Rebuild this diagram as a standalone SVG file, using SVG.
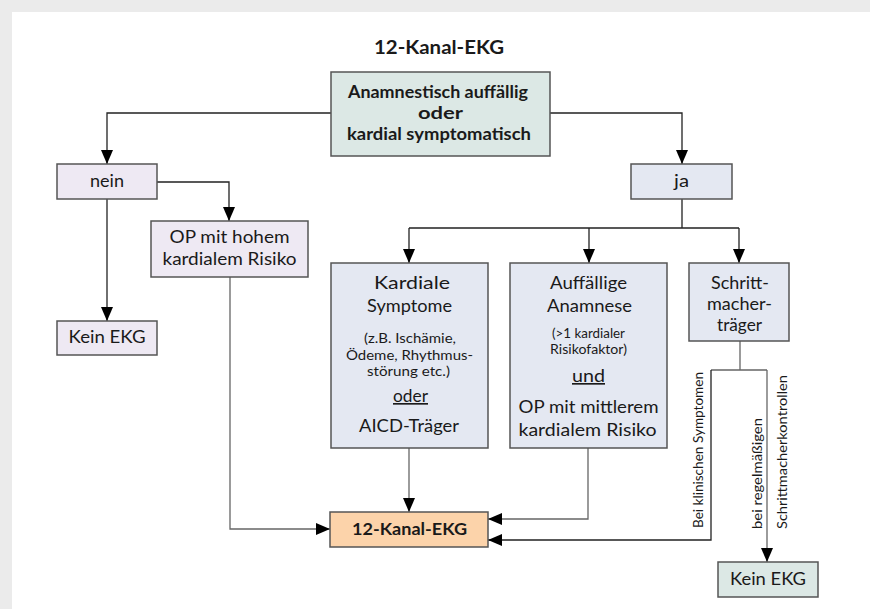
<svg xmlns="http://www.w3.org/2000/svg" width="870" height="609" viewBox="0 0 870 609">
<style>
  text { font-family: Lato, "Open Sans", "Liberation Sans", sans-serif; fill: #1a1a1a; text-anchor: middle; }
  .box { stroke: #555; stroke-width: 1.5; }
  .teal { fill: #dce8e5; }
  .lav { fill: #eee9f3; }
  .blue { fill: #e4e8f2; }
  .peach { fill: #fcd3aa; }
  .b { font-weight: bold; font-size: 16.5px; }
  .n { font-size: 16.5px; }
  .s { font-size: 13.5px; }
  .r { font-size: 13.5px; text-anchor: start; }
  .con { fill: none; stroke: #222; stroke-width: 1.3; }
  .g { stroke: #666; }
</style>
<defs>
  <marker id="ah" markerUnits="userSpaceOnUse" markerWidth="14" markerHeight="12" refX="14" refY="6" orient="auto">
    <path d="M0,0 L14,6 L0,12 z" fill="#000"/>
  </marker>
</defs>
<rect x="0" y="0" width="870" height="609" fill="#ebebeb"/>
<rect x="12" y="12" width="858" height="597" fill="#ffffff"/>
<text x="439" y="54" style="font-weight:bold;font-size:19px" textLength="130" lengthAdjust="spacingAndGlyphs">12-Kanal-EKG</text>

<g id="connectors">
  <path class="con" d="M331,113 H107 V164" marker-end="url(#ah)"/>
  <path class="con" d="M550,113 H682 V164" marker-end="url(#ah)"/>
  <path class="con" d="M157,182 H229 V221" marker-end="url(#ah)"/>
  <path class="con" d="M107,199 V321" marker-end="url(#ah)"/>
  <path class="con g" d="M230,277 V529 H330" marker-end="url(#ah)"/>
  <path class="con" d="M682,199 V228 M409,228 H739"/>
  <path class="con" d="M409,228 V263" marker-end="url(#ah)"/>
  <path class="con" d="M589,228 V263" marker-end="url(#ah)"/>
  <path class="con" d="M739,228 V263" marker-end="url(#ah)"/>
  <path class="con g" d="M409,448 V512" marker-end="url(#ah)"/>
  <path class="con g" d="M588,448 V519 H488" marker-end="url(#ah)"/>
  <path class="con g" d="M740,341 V370 M711,370 H767"/>
  <path class="con" d="M711,370 V540 H488" marker-end="url(#ah)"/>
  <path class="con g" d="M767,370 V562" marker-end="url(#ah)"/>
  <text class="r" transform="translate(703,528) rotate(-90)" textLength="156" lengthAdjust="spacingAndGlyphs">Bei klinischen Symptomen</text>
  <text class="r" transform="translate(762,529) rotate(-90)" textLength="111" lengthAdjust="spacingAndGlyphs">bei regelmäßigen</text>
  <text class="r" transform="translate(787,529) rotate(-90)" textLength="154" lengthAdjust="spacingAndGlyphs">Schrittmacherkontrollen</text>
</g>

<g id="top">
  <rect class="box teal" x="331" y="72" width="219" height="84"/>
  <text class="b" x="438" y="98" textLength="180" lengthAdjust="spacingAndGlyphs">Anamnestisch auffällig</text>
  <text class="b" x="440.5" y="119" textLength="45" lengthAdjust="spacingAndGlyphs">oder</text>
  <text class="b" x="439" y="140" textLength="184" lengthAdjust="spacingAndGlyphs">kardial symptomatisch</text>
</g>

<g id="nein">
  <rect class="box lav" x="57" y="164" width="100" height="35"/>
  <text class="n" x="107" y="187" textLength="34" lengthAdjust="spacingAndGlyphs">nein</text>
</g>

<g id="ja">
  <rect class="box blue" x="631" y="164" width="101" height="35"/>
  <text class="n" x="681.5" y="187" textLength="15" lengthAdjust="spacingAndGlyphs">ja</text>
</g>

<g id="op-hoch">
  <rect class="box lav" x="151" y="221" width="157" height="56"/>
  <text class="n" x="229.5" y="243" textLength="120" lengthAdjust="spacingAndGlyphs">OP mit hohem</text>
  <text class="n" x="229.5" y="265" textLength="134" lengthAdjust="spacingAndGlyphs">kardialem Risiko</text>
</g>

<g id="kein-ekg-1">
  <rect class="box lav" x="57" y="321" width="100" height="34"/>
  <text class="n" x="107" y="343" textLength="77" lengthAdjust="spacingAndGlyphs">Kein EKG</text>
</g>

<g id="kardiale">
  <rect class="box blue" x="331" y="263" width="157" height="185"/>
  <text class="n" x="412" y="289" textLength="76" lengthAdjust="spacingAndGlyphs">Kardiale</text>
  <text class="n" x="409.5" y="312" textLength="85" lengthAdjust="spacingAndGlyphs">Symptome</text>
  <text class="s" x="410" y="343" textLength="92" lengthAdjust="spacingAndGlyphs">(z.B. Ischämie,</text>
  <text class="s" x="409.5" y="360" textLength="127" lengthAdjust="spacingAndGlyphs">Ödeme, Rhythmus-</text>
  <text class="s" x="408.5" y="376" textLength="83" lengthAdjust="spacingAndGlyphs">störung etc.)</text>
  <text class="n" x="410.5" y="402" textLength="35" lengthAdjust="spacingAndGlyphs" text-decoration="underline">oder</text>
  <text class="n" x="409" y="432" textLength="100" lengthAdjust="spacingAndGlyphs">AICD-Träger</text>
</g>

<g id="auffaellig">
  <rect class="box blue" x="510" y="263" width="157" height="185"/>
  <text class="n" x="588.5" y="289" textLength="77" lengthAdjust="spacingAndGlyphs">Auffällige</text>
  <text class="n" x="589.5" y="312" textLength="85" lengthAdjust="spacingAndGlyphs">Anamnese</text>
  <text class="s" x="588.5" y="338" textLength="73" lengthAdjust="spacingAndGlyphs">(&gt;1 kardialer</text>
  <text class="s" x="588.5" y="354" textLength="77" lengthAdjust="spacingAndGlyphs">Risikofaktor)</text>
  <text class="n" x="588.5" y="382" textLength="33" lengthAdjust="spacingAndGlyphs" text-decoration="underline">und</text>
  <text class="n" x="588.5" y="413" textLength="140" lengthAdjust="spacingAndGlyphs">OP mit mittlerem</text>
  <text class="n" x="587.5" y="436" textLength="138" lengthAdjust="spacingAndGlyphs">kardialem Risiko</text>
</g>

<g id="schrittmacher">
  <rect class="box blue" x="689" y="263" width="100" height="78"/>
  <text class="n" x="740" y="289" textLength="58" lengthAdjust="spacingAndGlyphs">Schritt-</text>
  <text class="n" x="739.5" y="310" textLength="65" lengthAdjust="spacingAndGlyphs">macher-</text>
  <text class="n" x="739.5" y="331" textLength="45" lengthAdjust="spacingAndGlyphs">träger</text>
</g>

<g id="ekg12">
  <rect class="box peach" x="330" y="512" width="158" height="35"/>
  <text class="b" x="409.5" y="535" style="font-size:17px" textLength="115" lengthAdjust="spacingAndGlyphs">12-Kanal-EKG</text>
</g>

<g id="kein-ekg-2">
  <rect class="box teal" x="718" y="562" width="100" height="35"/>
  <text class="n" x="768" y="585" textLength="76" lengthAdjust="spacingAndGlyphs">Kein EKG</text>
</g>
</svg>
